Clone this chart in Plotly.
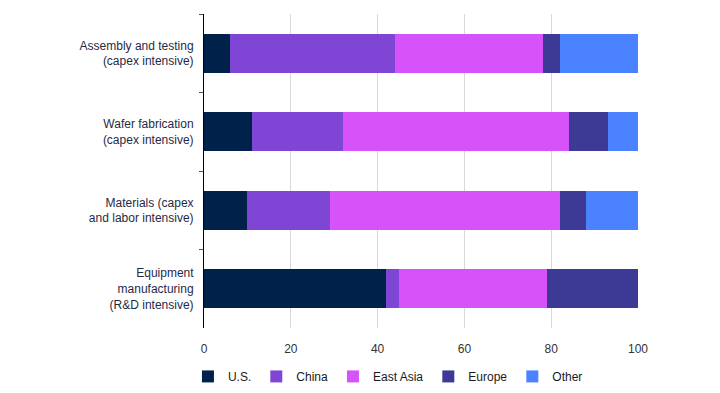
import plotly.graph_objects as go

categories = [
    "Assembly and testing<br>(capex intensive)",
    "Wafer fabrication<br>(capex intensive)",
    "Materials (capex<br>and labor intensive)",
    "Equipment<br>manufacturing<br>(R&D intensive)",
]
series_names = ["U.S.", "China", "East Asia", "Europe", "Other"]
us = [6, 11, 10, 42]
china = [38, 21, 19, 3]
east_asia = [34, 52, 53, 34]
europe = [4, 9, 6, 21]
other = [18, 7, 12, 0]
x_ticks = [0, 20, 40, 60, 80, 100]

colors = ["#00214a", "#7f46d6", "#d553f9", "#3c3a95", "#4a82ff"]
values = [us, china, east_asia, europe, other]

fig = go.Figure()
for name, vals, col in zip(series_names, values, colors):
    fig.add_trace(go.Bar(
        x=vals, y=categories, name=name, orientation="h",
        marker=dict(color=col, line=dict(width=0)),
    ))

font_family = "Liberation Sans, Arial, sans-serif"
fig.update_layout(
    barmode="stack",
    bargap=0.5,
    width=712, height=385,
    margin=dict(l=196, r=82, t=6, b=65, autoexpand=False),
    paper_bgcolor="white",
    plot_bgcolor="white",
    font=dict(family=font_family, size=12, color="#1f2b45"),
    showlegend=True,
    legend=dict(
        orientation="h", x=-0.037, xanchor="left", y=-0.108, yanchor="top",
        font=dict(size=12, color="#1a1a1a"), traceorder="normal",
        itemwidth=30,
    ),
    xaxis=dict(
        range=[0, 100], tickvals=x_ticks, ticktext=[str(v) for v in x_ticks],
        showgrid=True, gridcolor="#d9d9d9", gridwidth=1,
        zeroline=False, showline=False, ticks="",
        tickfont=dict(size=12, color="#333333"),
        ticklabelstandoff=12, automargin=False,
    ),
    yaxis=dict(
        categoryorder="array", categoryarray=categories, autorange="reversed",
        showline=True, linecolor="#000000", linewidth=1,
        ticks="outside", tickson="boundaries", ticklen=4, tickcolor="#555555",
        showgrid=False, tickfont=dict(size=12, color="#1f2b45"),
        ticklabelstandoff=7, automargin=False,
    ),
)

fig.write_html("out.html")
